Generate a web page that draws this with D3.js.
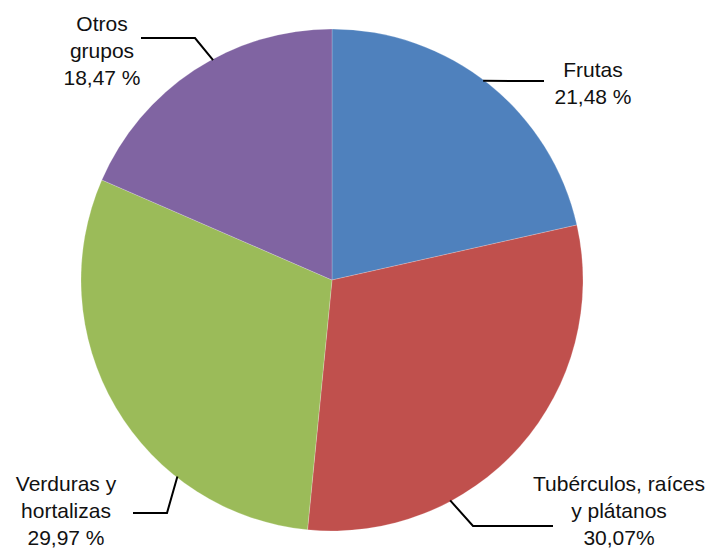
<!DOCTYPE html>
<html><head><meta charset="utf-8">
<script src="https://cdn.jsdelivr.net/npm/d3@7"></script>
<style>body{margin:0;background:#fff}svg{display:block}</style>
</head><body>
<script>
const categories = ["Frutas", "Tubérculos, raíces y plátanos", "Verduras y hortalizas", "Otros grupos"];
const values = [21.48, 30.07, 29.97, 18.47];
const labelLines = [["Frutas", "21,48 %"], ["Tubérculos, raíces", "y plátanos", "30,07%"], ["Verduras y", "hortalizas", "29,97 %"], ["Otros", "grupos", "18,47 %"]];
const colors = ["#4F81BD", "#C0504D", "#9BBB59", "#8064A2"];

// layout for labels (annotation placement)
const labelPos = [[593, 77], [619, 491], [66, 491], [102, 31]];
const leaderAnchorDeg = [37.2, 151.8, 218.2, 331.6];
const leaderPts = [[[544, 81]], [[473, 526], [553, 526]], [[167, 513], [133, 513]], [[195, 38], [141, 38]]];

const W = 722, H = 550, cx = 332, cy = 280, R = 251;
const svg = d3.select("body").append("svg").attr("width", W).attr("height", H);
const g = svg.append("g").attr("transform", `translate(${cx},${cy})`);

const pie = d3.pie().sort(null).value(d => d)(values);
const arc = d3.arc().innerRadius(0).outerRadius(R);
g.selectAll("path.slice").data(pie).enter().append("path")
  .attr("class", "slice").attr("d", arc)
  .attr("fill", (d, i) => colors[i]).attr("stroke", "rgba(255,255,255,0.35)").attr("stroke-width", 0.6);

// leader lines
const line = d3.line();
leaderAnchorDeg.forEach((deg, i) => {
  const a = deg * Math.PI / 180;
  const p0 = [cx + (R - 1) * Math.sin(a), cy - (R - 1) * Math.cos(a)];
  svg.append("path").attr("d", line([p0, ...leaderPts[i]]))
    .attr("fill", "none").attr("stroke", "#000").attr("stroke-width", 2);
});

// labels
labelLines.forEach((lines, i) => {
  const t = svg.append("text").attr("x", labelPos[i][0]).attr("y", labelPos[i][1])
    .attr("text-anchor", "middle")
    .style("font-family", "'Liberation Sans', Arial, sans-serif").style("font-size", "21px").attr("fill", "#111");
  lines.forEach((s, j) => t.append("tspan").attr("x", labelPos[i][0]).attr("dy", j === 0 ? 0 : 27).text(s));
});
</script>
</body></html>
